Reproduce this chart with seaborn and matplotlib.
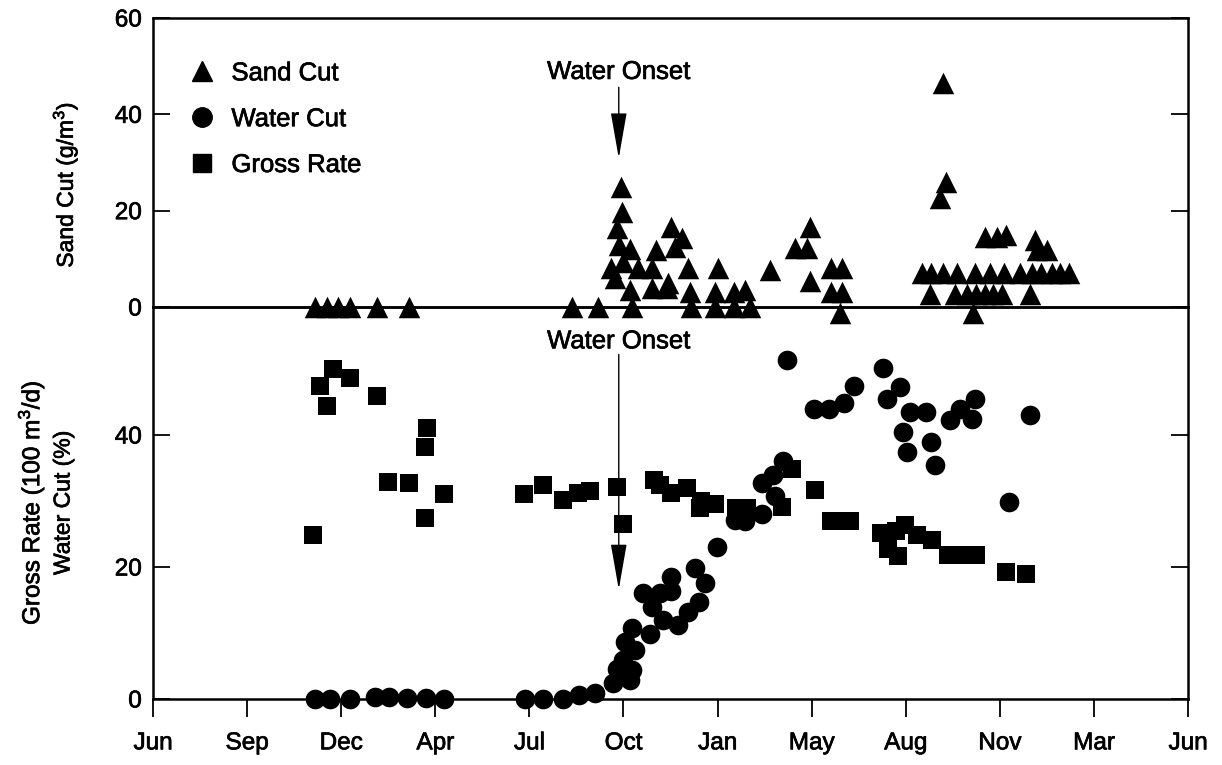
import matplotlib
matplotlib.use("Agg")
import matplotlib.pyplot as plt
import matplotlib.patheffects as pe
from matplotlib.lines import Line2D
import seaborn as sns
import pandas as pd

# Time axis: equally spaced calendar ticks, positions 0..11
month_labels = ["Jun", "Sep", "Dec", "Apr", "Jul", "Oct", "Jan", "May", "Aug", "Nov", "Mar", "Jun"]

# Sand cut (g/m3)
sand_t = [1.72, 1.85, 1.97, 2.09, 2.38, 2.72, 4.45, 4.73,
          4.97, 4.98, 4.93, 4.95, 5.07, 4.87, 4.91, 5.00, 5.15, 5.30, 5.35, 5.51,
          5.62, 5.55, 5.07, 5.09, 5.30, 5.46, 5.47, 5.69, 5.71, 5.72, 6.00, 5.97,
          5.97, 6.17, 6.17, 6.29, 6.35, 6.56, 6.98, 6.82, 6.95, 6.98, 7.21, 7.32,
          7.21, 7.32, 7.30,
          8.40, 8.43, 8.36, 8.84, 8.97, 9.07, 9.37, 9.50, 9.39,
          8.17, 8.27, 8.40, 8.54, 8.74, 8.90, 9.04, 9.21, 9.34, 9.44, 9.55, 9.64, 9.73,
          8.26, 8.52, 8.65, 8.75, 8.84, 8.93, 9.02, 9.32, 8.72]
sand_cut = [0, 0, 0, 0, 0, 0, 0, 0,
            25.0, 19.8, 16.4, 12.9, 12.0, 8.1, 6.0, 9.3, 8.1, 8.1, 11.8, 16.7,
            14.3, 12.5, 3.5, 0, 3.9, 3.9, 5.0, 8.1, 3.1, 0, 8.1, 3.1,
            0, 3.1, 0, 3.5, 0, 7.7, 16.7, 12.2, 12.2, 5.3, 8.1, 8.1,
            3.1, 3.1, -1.2,
            46.4, 26.0, 22.6, 14.6, 14.6, 14.9, 13.9, 11.8, 11.8,
            7.0, 7.0, 7.0, 7.0, 7.0, 7.0, 7.0, 7.0, 7.0, 7.0, 7.0, 7.0, 7.0,
            2.8, 2.8, 2.8, 2.8, 2.8, 2.8, 2.8, 2.8, -1.3]

# Water cut (%)
water_t = [1.72, 1.88, 2.09, 2.36, 2.51, 2.70, 2.90, 3.09,
           3.95, 4.15, 4.36, 4.53, 4.70,
           4.89, 4.93, 5.00, 5.09, 5.07, 5.12, 5.02, 5.09, 5.28, 5.21, 5.39, 5.30,
           5.42, 5.51, 5.51, 5.58, 5.69, 5.80, 5.76, 5.87, 5.99, 6.19, 6.29, 6.47,
           6.47, 6.59, 6.70, 6.61,
           6.74, 7.02, 7.18, 7.34, 7.45, 7.76, 7.94, 7.80, 8.05, 8.22, 7.97, 8.01,
           8.27, 8.31, 8.47, 8.58, 8.74, 8.70, 9.32, 9.10]
water_cut = [0, 0, 0, 0.3, 0.3, 0.2, 0.1, 0,
             0, 0, 0, 0.6, 0.9,
             2.4, 4.6, 5.9, 4.4, 2.9, 7.4, 8.7, 10.7, 9.9, 16.0, 16.0, 14.0,
             12.0, 18.5, 16.3, 11.2, 13.2, 14.7, 19.8, 17.5, 23.1, 27.1, 26.9, 28.1,
             32.7, 33.9, 36.0, 30.7,
             51.4, 44.0, 44.0, 44.9, 47.5, 50.1, 47.3, 45.5, 43.5, 43.5, 40.5, 37.5,
             39.0, 35.5, 42.3, 44.0, 45.5, 42.5, 43.0, 29.9]

# Gross rate (100 m3/d)
gross_t = [1.70, 1.77, 1.91, 1.85, 2.09, 2.38, 2.50, 2.72, 2.91, 2.89, 2.89, 3.09,
           3.94, 4.15, 4.36, 4.52, 4.64, 4.93, 5.00, 5.32, 5.39, 5.51, 5.67, 5.81,
           5.82, 5.97, 6.20, 6.31, 6.68, 6.79, 7.04, 7.21, 7.32, 7.41, 7.74, 7.81,
           7.92, 7.99, 7.90, 8.12, 8.28, 8.45, 8.61, 8.75, 9.07, 9.28]
gross_rate = [24.8, 47.4, 50.0, 44.4, 48.7, 45.9, 32.9, 32.7, 41.1, 38.2, 27.5, 31.1,
              31.0, 32.4, 30.2, 31.2, 31.5, 32.1, 26.5, 33.2, 32.4, 31.2, 31.9, 28.9,
              30.0, 29.6, 28.9, 28.9, 29.1, 34.8, 31.7, 26.9, 26.9, 26.9, 25.1, 22.8,
              21.6, 26.4, 25.4, 24.8, 24.1, 21.8, 21.8, 21.8, 19.3, 19.0]

onset_t = 4.95

sns.set_theme(style="white")
plt.rcParams["font.family"] = ["Liberation Sans", "DejaVu Sans"]
plt.rcParams["mathtext.fontset"] = "custom"
plt.rcParams["mathtext.rm"] = "Liberation Sans"
plt.rcParams["text.color"] = "black"

# slightly heavier strokes for all lettering
heavy = [pe.withStroke(linewidth=0.5, foreground="black")]

fig = plt.figure(figsize=(12.22, 7.65), dpi=100)
ax_top = fig.add_axes([0.1252, 0.5987, 0.8470, 0.3778])
ax_bot = fig.add_axes([0.1252, 0.0863, 0.8470, 0.5124])
# upper panel drawn last so markers at zero overhang the shared edge
ax_top.set_zorder(3)
ax_top.patch.set_alpha(0)

sand_df = pd.DataFrame({"t": sand_t, "v": sand_cut})
water_df = pd.DataFrame({"t": water_t, "v": water_cut})
gross_df = pd.DataFrame({"t": gross_t, "v": gross_rate})

kw = dict(color="black", linewidth=0, clip_on=False, legend=False, zorder=3)
sns.scatterplot(data=sand_df, x="t", y="v", marker="^", s=240, ax=ax_top, **kw)
sns.scatterplot(data=gross_df, x="t", y="v", marker="s", s=170, ax=ax_bot, **kw)
sns.scatterplot(data=water_df, x="t", y="v", marker="o", s=200, ax=ax_bot, **kw)

for ax in (ax_top, ax_bot):
    ax.set_xlim(0, 11)
    ax.set_xlabel("")
    ax.set_ylabel("")
    for sp in ax.spines.values():
        sp.set_visible(True)
        sp.set_color("black")
        sp.set_linewidth(1.8)
    ax.tick_params(axis="y", direction="in", length=12, width=1.3, colors="black",
                   left=True, right=True, labelsize=17.5, pad=8)

ax_top.set_ylim(0, 60)
ax_top.set_yticks([0, 20, 40, 60])
ax_top.set_xticks([])

ax_bot.set_ylim(0, 59.4)
ax_bot.set_yticks([0, 20, 40])
ax_bot.set_xticks(range(len(month_labels)))
ax_bot.set_xticklabels(month_labels)
ax_bot.tick_params(axis="x", direction="out", length=13, width=1.3, colors="black",
                   bottom=True, labelsize=17.5, pad=11)

for ax in (ax_top, ax_bot):
    for lbl in ax.get_xticklabels() + ax.get_yticklabels():
        lbl.set_path_effects(heavy)

# Water onset annotations
arrow = dict(arrowstyle="-|>,head_length=2.4,head_width=0.42", color="black",
             lw=1.0, shrinkA=0, shrinkB=0)
ax_top.text(onset_t, 48.8, "Water Onset", ha="center", va="center", fontsize=18.5,
            path_effects=heavy)
ax_top.annotate("", xy=(onset_t, 30.9), xytext=(onset_t, 45.6), arrowprops=arrow)
ax_bot.text(onset_t, 54.2, "Water Onset", ha="center", va="center", fontsize=18.5,
            path_effects=heavy)
ax_bot.annotate("", xy=(onset_t, 16.6), xytext=(onset_t, 52.2), arrowprops=arrow)

# Legend
handles = [Line2D([], [], marker=m, color="black", linestyle="none", markersize=ms)
           for m, ms in (("^", 15), ("o", 14), ("s", 13))]
leg = ax_top.legend(handles, ["Sand Cut", "Water Cut", "Gross Rate"], loc="upper left",
                    bbox_to_anchor=(0.01, 0.93), frameon=False, fontsize=18.5,
                    handletextpad=0.55, labelspacing=0.85, handlelength=1.2)
for t in leg.get_texts():
    t.set_path_effects(heavy)

fig.text(65 / 1222, 1 - 185 / 765, "Sand Cut (g/m$^3$)", rotation=90,
         ha="center", va="center", fontsize=16.5, path_effects=heavy)
fig.text(31 / 1222, 1 - 503 / 765, "Gross Rate (100 m$^3$/d)", rotation=90,
         ha="center", va="center", fontsize=17.5, path_effects=heavy)
fig.text(63 / 1222, 1 - 503 / 765, "Water Cut (%)", rotation=90,
         ha="center", va="center", fontsize=16.5, path_effects=heavy)

fig.savefig("out.png", dpi=100, facecolor="white")
